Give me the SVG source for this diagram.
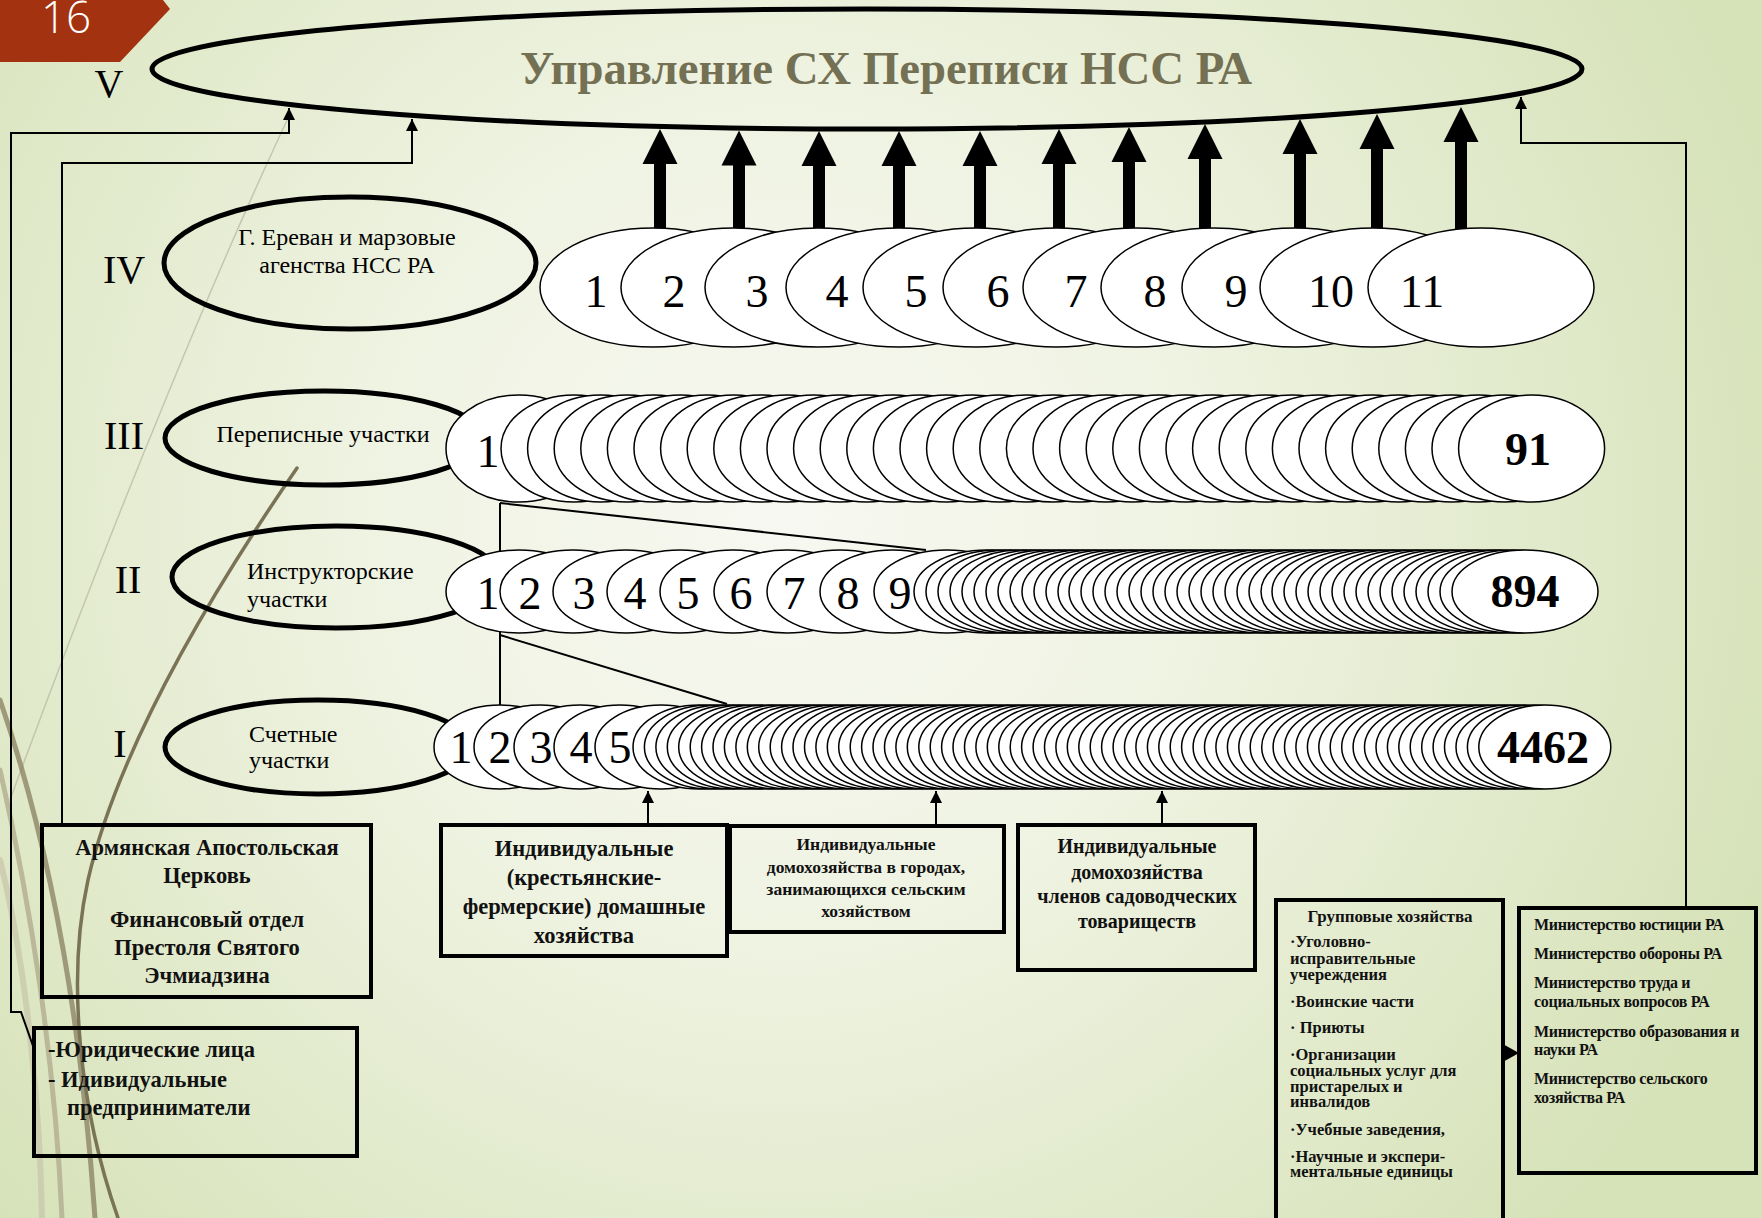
<svg xmlns="http://www.w3.org/2000/svg" width="1762" height="1218" viewBox="0 0 1762 1218">
<style>
.rn{font-family:"Liberation Serif",serif;font-size:40px;fill:#000}
.lt{font-family:"Liberation Serif",serif;font-size:24px;fill:#000}
.bx{font-family:"Liberation Serif",serif;font-weight:bold;fill:#111}
.box{fill:none;stroke:#000;stroke-width:4}
.lbl{fill:none;stroke:#000;stroke-width:5}
.n{font-family:"Liberation Serif",serif;font-size:46px;fill:#000;text-anchor:middle}
.nb{font-family:"Liberation Serif",serif;font-size:46px;font-weight:bold;fill:#000;text-anchor:middle}
.cn{fill:none;stroke:#000;stroke-width:2}
.ta{fill:#000}
.mid{text-anchor:middle}
</style>
<defs>
<radialGradient id="bg" cx="780" cy="520" r="1050" gradientUnits="userSpaceOnUse">
<stop offset="0" stop-color="#f7f8f1"/>
<stop offset="0.4" stop-color="#eff3e2"/>
<stop offset="1" stop-color="#d6e2b8"/>
</radialGradient>
<marker id="ah" markerWidth="14" markerHeight="14" refX="12" refY="6" orient="auto" markerUnits="userSpaceOnUse"><path d="M0,0 L12,6 L0,12 Z" fill="#000"/></marker>
<ellipse id="e4" cx="0" cy="287.5" rx="113" ry="59.5" fill="#fff" stroke="#000" stroke-width="1.5"/>
<ellipse id="e3" cx="0" cy="448.5" rx="73" ry="53.5" fill="#fff" stroke="#000" stroke-width="1.5"/>
<ellipse id="e2" cx="0" cy="591.5" rx="73" ry="41.5" fill="#fff" stroke="#000" stroke-width="1.5"/>
<ellipse id="e1" cx="0" cy="747" rx="66" ry="42" fill="#fff" stroke="#000" stroke-width="1.5"/>
</defs>

<rect width="1762" height="1218" fill="url(#bg)"/>

<g id="decor" fill="none" stroke-linecap="round">
<path d="M291 112 C 230 240, 120 500, 10 800" stroke="#c4c6ae" stroke-width="1.5"/>
<path d="M0 700 C 45 830, 80 1000, 95 1218" stroke="#8c8565" stroke-width="5" opacity="0.8"/>
<path d="M0 770 C 30 900, 55 1060, 62 1218" stroke="#b1ac8f" stroke-width="5" opacity="0.8"/>
<path d="M0 860 C 25 960, 40 1100, 42 1218" stroke="#cbc8ad" stroke-width="6" opacity="0.8"/>
<path d="M297 468 C 220 580, 120 740, 88 880 C 66 980, 80 1110, 118 1218" stroke="#7b7355" stroke-width="3.5"/>
</g>

<g id="slide-number">
<polygon points="0,0 163,0 170,9 120,62 0,62" fill="#a33211"/>
<text x="66" y="33" font-family="'Open Sans',sans-serif" font-weight="300" font-size="44" fill="#fff" text-anchor="middle">16</text>
</g>

<g id="level-V">
<ellipse class="lbl" cx="867" cy="69" rx="715" ry="60"/>
<text x="886" y="84" font-family="'Liberation Serif',serif" font-weight="bold" font-size="47" fill="#747054" text-anchor="middle" textLength="732" lengthAdjust="spacingAndGlyphs">Управление  СХ Переписи НСС РА</text>
<text class="rn mid" x="109" y="97">V</text>
</g>

<g id="label-IV">
<text class="rn mid" x="124" y="283">IV</text>
<ellipse class="lbl" cx="350" cy="263" rx="186" ry="66"/>
<text class="lt mid" x="347" y="245" font-size="23">Г. Ереван и марзовые</text>
<text class="lt mid" x="347" y="273" font-size="23">агенства  НСС РА</text>
</g>
<g id="label-III">
<text class="rn mid" x="124" y="449">III</text>
<ellipse class="lbl" cx="324" cy="438" rx="159" ry="47"/>
<text class="lt mid" x="323" y="442">Переписные участки</text>
</g>
<g id="label-II">
<text class="rn mid" x="128" y="593">II</text>
<ellipse class="lbl" cx="336" cy="577" rx="164" ry="51"/>
<text class="lt" x="247" y="579" font-size="25">Инструкторские</text>
<text class="lt" x="247" y="607" font-size="25">участки</text>
</g>
<g id="label-I">
<text class="rn mid" x="120" y="757">I</text>
<ellipse class="lbl" cx="318" cy="747" rx="153" ry="47"/>
<text class="lt" x="249" y="742">Счетные</text>
<text class="lt" x="249" y="768">участки</text>
</g>

<g id="connectors">
<path class="cn" d="M33 1046 L21 1012 L11 1012 L11 133 L289 133 L289 108" marker-end="url(#ah)"/>
<path class="cn" d="M62 825 L62 163 L412 163 L412 119" marker-end="url(#ah)"/>
<path class="cn" d="M1686 908 L1686 143 L1521 143 L1521 97" marker-end="url(#ah)"/>
<path class="cn" d="M648 825 L648 791" marker-end="url(#ah)"/>
<path class="cn" d="M936 826 L936 791" marker-end="url(#ah)"/>
<path class="cn" d="M1162 825 L1162 791" marker-end="url(#ah)"/>
<path class="cn" d="M500 503 L500 705 M500 503 L926 550 M500 635 L727 704" stroke-width="1.8"/>
<polygon class="ta" points="1501,1043 1519,1053 1501,1063"/>
<path class="ta" d="M654 230V164H642.5L660 129L677.5 164H666V230Z"/>
<path class="ta" d="M733 230V165.5H721.5L739 130.5L756.5 165.5H745V230Z"/>
<path class="ta" d="M813 230V166H801.5L819 131L836.5 166H825V230Z"/>
<path class="ta" d="M893 230V166H881.5L899 131L916.5 166H905V230Z"/>
<path class="ta" d="M974 230V166H962.5L980 131L997.5 166H986V230Z"/>
<path class="ta" d="M1053 230V164H1041.5L1059 129L1076.5 164H1065V230Z"/>
<path class="ta" d="M1123 230V162H1111.5L1129 127L1146.5 162H1135V230Z"/>
<path class="ta" d="M1199 230V159H1187.5L1205 124L1222.5 159H1211V230Z"/>
<path class="ta" d="M1294 230V154H1282.5L1300 119L1317.5 154H1306V230Z"/>
<path class="ta" d="M1371 230V149H1359.5L1377 114L1394.5 149H1383V230Z"/>
<path class="ta" d="M1455 230V142H1443.5L1461 107L1478.5 142H1467V230Z"/>
</g>

<g id="row-IV">
<use href="#e4" x="653"/><text class="n" x="596" y="307" font-size="44">1</text>
<use href="#e4" x="734"/><text class="n" x="674" y="307" font-size="44">2</text>
<use href="#e4" x="818"/><text class="n" x="757" y="307" font-size="44">3</text>
<use href="#e4" x="899"/><text class="n" x="837" y="307" font-size="44">4</text>
<use href="#e4" x="976"/><text class="n" x="916" y="307" font-size="44">5</text>
<use href="#e4" x="1056"/><text class="n" x="998" y="307" font-size="44">6</text>
<use href="#e4" x="1136"/><text class="n" x="1076" y="307" font-size="44">7</text>
<use href="#e4" x="1214"/><text class="n" x="1155" y="307" font-size="44">8</text>
<use href="#e4" x="1295"/><text class="n" x="1236" y="307" font-size="44">9</text>
<use href="#e4" x="1373"/><text class="n" x="1331" y="307" font-size="44">10</text>
<use href="#e4" x="1481"/><text class="n" x="1422" y="307" font-size="44">11</text>
</g>

<g id="row-III">
<use href="#e3" x="519"/><text class="n" x="488" y="467">1</text>
<use href="#e3" x="574"/><use href="#e3" x="600.6"/><use href="#e3" x="627.2"/><use href="#e3" x="653.8"/><use href="#e3" x="680.4"/><use href="#e3" x="707"/><use href="#e3" x="733.6"/><use href="#e3" x="760.2"/><use href="#e3" x="786.8"/><use href="#e3" x="813.4"/><use href="#e3" x="840"/><use href="#e3" x="866.6"/><use href="#e3" x="893.2"/><use href="#e3" x="919.8"/><use href="#e3" x="946.4"/><use href="#e3" x="973"/><use href="#e3" x="999.6"/><use href="#e3" x="1026.2"/><use href="#e3" x="1052.8"/><use href="#e3" x="1079.4"/><use href="#e3" x="1106"/><use href="#e3" x="1132.6"/><use href="#e3" x="1159.2"/><use href="#e3" x="1185.8"/><use href="#e3" x="1212.4"/><use href="#e3" x="1239"/><use href="#e3" x="1265.6"/><use href="#e3" x="1292.2"/><use href="#e3" x="1318.8"/><use href="#e3" x="1345.4"/><use href="#e3" x="1372"/><use href="#e3" x="1398.6"/><use href="#e3" x="1425.2"/><use href="#e3" x="1451.8"/><use href="#e3" x="1478.4"/><use href="#e3" x="1505"/><use href="#e3" x="1531.6"/>
<text class="nb" x="1528" y="465">91</text>
</g>

<g id="row-II">
<use href="#e2" x="519"/><text class="n" x="488" y="609">1</text>
<use href="#e2" x="573"/><text class="n" x="530" y="609">2</text>
<use href="#e2" x="626"/><text class="n" x="584" y="609">3</text>
<use href="#e2" x="680"/><text class="n" x="635" y="609">4</text>
<use href="#e2" x="733"/><text class="n" x="688" y="609">5</text>
<use href="#e2" x="787"/><text class="n" x="741" y="609">6</text>
<use href="#e2" x="840"/><text class="n" x="794" y="609">7</text>
<use href="#e2" x="893"/><text class="n" x="848" y="609">8</text>
<use href="#e2" x="947"/><text class="n" x="900" y="609">9</text>
<use href="#e2" x="987"/><use href="#e2" x="999"/><use href="#e2" x="1011"/><use href="#e2" x="1023"/><use href="#e2" x="1035"/><use href="#e2" x="1047"/><use href="#e2" x="1059"/><use href="#e2" x="1071"/><use href="#e2" x="1083"/><use href="#e2" x="1095"/><use href="#e2" x="1107"/><use href="#e2" x="1119"/><use href="#e2" x="1131"/><use href="#e2" x="1142"/><use href="#e2" x="1154"/><use href="#e2" x="1166"/><use href="#e2" x="1178"/><use href="#e2" x="1190"/><use href="#e2" x="1202"/><use href="#e2" x="1214"/><use href="#e2" x="1226"/><use href="#e2" x="1238"/><use href="#e2" x="1250"/><use href="#e2" x="1262"/><use href="#e2" x="1274"/><use href="#e2" x="1286"/><use href="#e2" x="1298"/><use href="#e2" x="1310"/><use href="#e2" x="1322"/><use href="#e2" x="1334"/><use href="#e2" x="1345"/><use href="#e2" x="1357"/><use href="#e2" x="1369"/><use href="#e2" x="1381"/><use href="#e2" x="1393"/><use href="#e2" x="1405"/><use href="#e2" x="1417"/><use href="#e2" x="1429"/><use href="#e2" x="1441"/><use href="#e2" x="1453"/><use href="#e2" x="1465"/><use href="#e2" x="1477"/><use href="#e2" x="1489"/><use href="#e2" x="1501"/><use href="#e2" x="1513"/><use href="#e2" x="1525"/>
<text class="nb" x="1525" y="607">894</text>
</g>

<g id="row-I">
<use href="#e1" x="500"/><text class="n" x="461" y="763">1</text>
<use href="#e1" x="540"/><text class="n" x="500" y="763">2</text>
<use href="#e1" x="580"/><text class="n" x="541" y="763">3</text>
<use href="#e1" x="620"/><text class="n" x="581" y="763">4</text>
<use href="#e1" x="661"/><text class="n" x="620" y="763">5</text>
<use href="#e1" x="699"/><use href="#e1" x="710.4"/><use href="#e1" x="721.9"/><use href="#e1" x="733.3"/><use href="#e1" x="744.7"/><use href="#e1" x="756.2"/><use href="#e1" x="767.6"/><use href="#e1" x="779"/><use href="#e1" x="790.4"/><use href="#e1" x="801.9"/><use href="#e1" x="813.3"/><use href="#e1" x="824.7"/><use href="#e1" x="836.2"/><use href="#e1" x="847.6"/><use href="#e1" x="859"/><use href="#e1" x="870.5"/><use href="#e1" x="881.9"/><use href="#e1" x="893.3"/><use href="#e1" x="904.7"/><use href="#e1" x="916.2"/><use href="#e1" x="927.6"/><use href="#e1" x="939"/><use href="#e1" x="950.5"/><use href="#e1" x="961.9"/><use href="#e1" x="973.3"/><use href="#e1" x="984.8"/><use href="#e1" x="996.2"/><use href="#e1" x="1007.6"/><use href="#e1" x="1019"/><use href="#e1" x="1030.5"/><use href="#e1" x="1041.9"/><use href="#e1" x="1053.3"/><use href="#e1" x="1064.8"/><use href="#e1" x="1076.2"/><use href="#e1" x="1087.6"/><use href="#e1" x="1099.1"/><use href="#e1" x="1110.5"/><use href="#e1" x="1121.9"/><use href="#e1" x="1133.3"/><use href="#e1" x="1144.8"/><use href="#e1" x="1156.2"/><use href="#e1" x="1167.6"/><use href="#e1" x="1179.1"/><use href="#e1" x="1190.5"/><use href="#e1" x="1201.9"/><use href="#e1" x="1213.4"/><use href="#e1" x="1224.8"/><use href="#e1" x="1236.2"/><use href="#e1" x="1247.6"/><use href="#e1" x="1259.1"/><use href="#e1" x="1270.5"/><use href="#e1" x="1281.9"/><use href="#e1" x="1293.4"/><use href="#e1" x="1304.8"/><use href="#e1" x="1316.2"/><use href="#e1" x="1327.7"/><use href="#e1" x="1339.1"/><use href="#e1" x="1350.5"/><use href="#e1" x="1361.9"/><use href="#e1" x="1373.4"/><use href="#e1" x="1384.8"/><use href="#e1" x="1396.2"/><use href="#e1" x="1407.7"/><use href="#e1" x="1419.1"/><use href="#e1" x="1430.5"/><use href="#e1" x="1442"/><use href="#e1" x="1453.4"/><use href="#e1" x="1464.8"/><use href="#e1" x="1476.2"/><use href="#e1" x="1487.7"/><use href="#e1" x="1499.1"/><use href="#e1" x="1510.5"/><use href="#e1" x="1522"/><use href="#e1" x="1533.4"/><use href="#e1" x="1544.8"/>
<text class="nb" x="1543" y="763">4462</text>
</g>

<g id="box-church">
<rect class="box" x="42" y="825" width="329" height="172"/>
<text class="bx mid" font-size="22.5" x="207"><tspan x="207" y="855">Армянская Апостольская</tspan><tspan x="207" y="883">Церковь</tspan><tspan x="207" y="927">Финансовый отдел</tspan><tspan x="207" y="955">Престоля Святого</tspan><tspan x="207" y="983">Эчмиадзина</tspan></text>
</g>

<g id="box-legal">
<rect class="box" x="34" y="1028" width="323" height="128"/>
<text class="bx" font-size="22.5"><tspan x="48" y="1057">-Юридические лица</tspan><tspan x="48" y="1087">- Идивидуальные</tspan><tspan x="67" y="1115">предприниматели</tspan></text>
</g>

<g id="box-farm">
<rect class="box" x="441" y="825" width="286" height="131"/>
<text class="bx mid" font-size="22.5"><tspan x="584" y="856">Индивидуальные</tspan><tspan x="584" y="885">(крестьянские-</tspan><tspan x="584" y="914">фермерские) домашные</tspan><tspan x="584" y="943">хозяйства</tspan></text>
</g>

<g id="box-urban">
<rect class="box" x="730" y="826" width="274" height="106"/>
<text class="bx mid" font-size="17.5"><tspan x="866" y="850">Индивидуальные</tspan><tspan x="866" y="873">домохозяйства в городах,</tspan><tspan x="866" y="895">занимающихся сельским</tspan><tspan x="866" y="917">хозяйством</tspan></text>
</g>

<g id="box-garden">
<rect class="box" x="1018" y="825" width="237" height="145"/>
<text class="bx mid" font-size="20"><tspan x="1137" y="853">Индивидуальные</tspan><tspan x="1137" y="879">домохозяйства</tspan><tspan x="1137" y="903">членов садоводческих</tspan><tspan x="1137" y="928">товариществ</tspan></text>
</g>

<g id="box-group">
<rect class="box" x="1276" y="900" width="227" height="330"/>
<text class="bx" font-size="16.5"><tspan x="1390" y="922" text-anchor="middle" font-size="17">Групповые хозяйства</tspan><tspan x="1290" y="947">·Уголовно-</tspan><tspan x="1290" y="964">исправительные</tspan><tspan x="1290" y="980">учереждения</tspan><tspan x="1290" y="1007">·Воинские  части</tspan><tspan x="1290" y="1033">· Приюты</tspan><tspan x="1290" y="1060">·Организации</tspan><tspan x="1290" y="1076">социальных услуг для</tspan><tspan x="1290" y="1092">пристарелых и</tspan><tspan x="1290" y="1107">инвалидов</tspan><tspan x="1290" y="1135">·Учебные заведения,</tspan><tspan x="1290" y="1162">·Научные и экспери-</tspan><tspan x="1290" y="1177">ментальные единицы</tspan></text>
</g>

<g id="box-ministries">
<rect class="box" x="1519" y="908" width="237" height="265"/>
<text class="bx" font-size="16" letter-spacing="-0.3"><tspan x="1534" y="930">Министерство юстиции РА</tspan><tspan x="1534" y="959">Министерство обороны РА</tspan><tspan x="1534" y="988">Министерство труда и</tspan><tspan x="1534" y="1007">социальных  вопросов РА</tspan><tspan x="1534" y="1037">Министерство образования и</tspan><tspan x="1534" y="1055">науки РА</tspan><tspan x="1534" y="1084">Министерство  сельского</tspan><tspan x="1534" y="1103">хозяйства РА</tspan></text>
</g>
</svg>
